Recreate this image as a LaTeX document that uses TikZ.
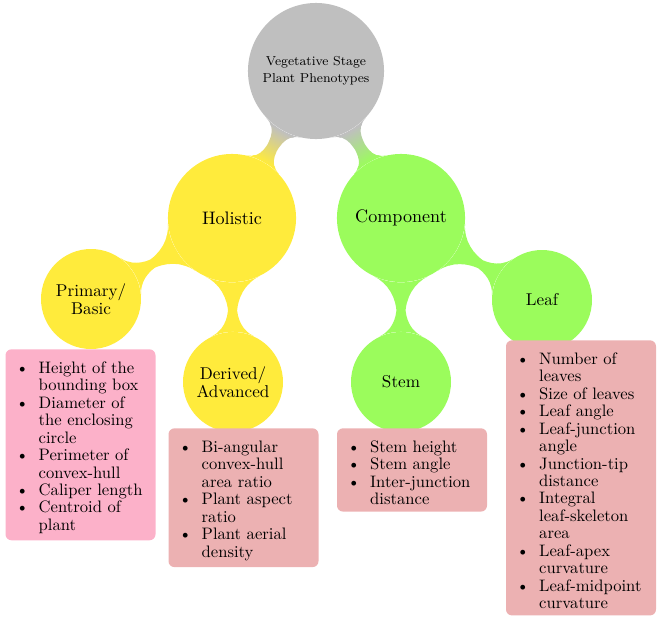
\documentclass[tikz,border=0pt]{standalone}
\usepackage{enumitem}
\usetikzlibrary{mindmap,positioning,backgrounds}
\definecolor{rootgray}{RGB}{191,191,191}
\definecolor{holyellow}{RGB}{255,235,60}
\definecolor{compgreen}{RGB}{155,252,92}
\definecolor{listpink}{RGB}{252,177,201}
\definecolor{listrose}{RGB}{236,177,178}
\setlist[itemize]{nosep,leftmargin=20pt,labelsep=6pt}

\begin{document}
\begin{tikzpicture}[
    x=0.602pt, y=-0.602pt,
    rootc/.style={circle, fill=rootgray, minimum size=81.9pt, inner sep=0pt,
        align=center, font=\fontsize{7.8}{10}\selectfont},
    mainc/.style={circle, fill=#1, minimum size=77.1pt, inner sep=0pt,
        align=center, font=\fontsize{10.9}{12}\selectfont},
    subc/.style={circle, fill=#1, minimum size=60.2pt, inner sep=0pt,
        align=center, font=\fontsize{10.3}{11}\selectfont},
    listbox/.style={rectangle, rounded corners=3.6pt, fill=#1, anchor=north,
        text width=90.3pt, inner xsep=0pt, inner ysep=4pt, align=left,
        font=\fontsize{10}{10.5}\selectfont},
    bartop/.style={circle connection bar switch color=#1, decoration={
        amplitude=10pt, angle=17, start radius=40.9pt, end radius=38.5pt}},
    barsub/.style={circle connection bar switch color=from (#1) to (#1),
        decoration={amplitude=12pt, angle=25, start radius=38.5pt,
        end radius=30.1pt}}
]
\useasboundingbox (0,0) rectangle (661,621);

% ------------------------------------------------------------
% Concepts
% ------------------------------------------------------------

\node[rootc] (root) at (316,71) {Vegetative Stage\\Plant Phenotypes};

\node[mainc=holyellow] (hol)  at (232,218) {Holistic};
\node[mainc=compgreen] (comp) at (401,218) {Component};

\node[subc=holyellow] (prim) at (91,299)  {Primary/\\Basic};
\node[subc=holyellow] (der)  at (233,382) {Derived/\\Advanced};
\node[subc=compgreen] (stem) at (401,382) {Stem};
\node[subc=compgreen] (leaf) at (542,300) {Leaf};

% Connection bars (behind the circles)
\begin{scope}[on background layer]
\path (root) to[bartop=from (rootgray) to (holyellow)] (hol);
\path (root) to[bartop=from (rootgray) to (compgreen)] (comp);
\path (hol)  to[barsub=holyellow] (prim);
\path (hol)  to[barsub=holyellow] (der);
\path (comp) to[barsub=compgreen] (stem);
\path (comp) to[barsub=compgreen] (leaf);
\end{scope}

% ------------------------------------------------------------
% Phenotype lists
% ------------------------------------------------------------

\node[listbox=listpink] (primL) at (80.5,349) {%
  \begin{itemize}
    \item Height of the\\bounding box
    \item Diameter of\\the enclosing\\circle
    \item Perimeter of\\convex-hull
    \item Caliper length
    \item Centroid of\\plant
  \end{itemize}};

\node[listbox=listrose] (derL) at (243.5,428) {%
  \begin{itemize}
    \item Bi-angular\\convex-hull\\area ratio
    \item Plant aspect\\ratio
    \item Plant aerial\\density
  \end{itemize}};

\node[listbox=listrose] (stemL) at (412,428) {%
  \begin{itemize}
    \item Stem height
    \item Stem angle
    \item Inter-junction\\distance
  \end{itemize}};

\node[listbox=listrose] (leafL) at (581,340) {%
  \begin{itemize}
    \item Number of\\leaves
    \item Size of leaves
    \item Leaf angle
    \item Leaf-junction\\angle
    \item Junction-tip\\distance
    \item Integral\\leaf-skeleton\\area
    \item Leaf-apex\\curvature
    \item Leaf-midpoint\\curvature
  \end{itemize}};

\end{tikzpicture}
\end{document}
